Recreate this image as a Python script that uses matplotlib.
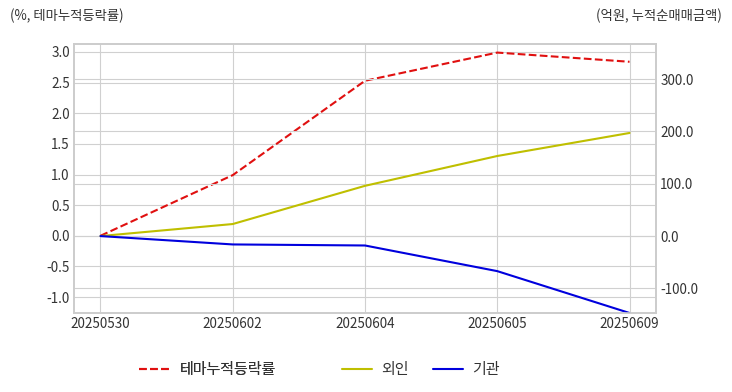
import matplotlib
matplotlib.use("Agg")
import matplotlib.pyplot as plt
import seaborn as sns
from matplotlib.ticker import FormatStrFormatter

dates = ["20250530", "20250602", "20250604", "20250605", "20250609"]
theme_rate = [0.0, 0.99, 2.53, 2.99, 2.84]   # %, 테마누적등락률
foreign = [0.0, 23.0, 96.0, 153.0, 197.0]    # 억원, 외인
inst = [0.0, -16.0, -18.0, -67.0, -147.0]    # 억원, 기관

sns.set_style("whitegrid")
plt.rcParams['font.family'] = ['Noto Sans CJK KR', 'DejaVu Sans']
plt.rcParams['axes.edgecolor'] = '#cccccc'
plt.rcParams['grid.color'] = '#d0d0d0'

fig = plt.figure(figsize=(7.32, 3.92), dpi=100)
ax1 = fig.add_axes([74/732, 1-313/392, (656-74)/732, (313-44)/392])
ax2 = ax1.twinx()

x = range(len(dates))
l1, = ax1.plot(x, theme_rate, color='#e01010', linestyle='--', linewidth=1.5, label='테마누적등락률')
l2, = ax2.plot(x, foreign, color='#bfbf00', linewidth=1.5, label='외인')
l3, = ax2.plot(x, inst, color='#0000dd', linewidth=1.5, label='기관')

ax1.set_xlim(-0.2, 4.2)
ax1.set_ylim(-1.26, 3.13)
ax2.set_ylim(-147, 367)
ax1.set_yticks([-1.0, -0.5, 0.0, 0.5, 1.0, 1.5, 2.0, 2.5, 3.0])
ax2.set_yticks([-100, 0, 100, 200, 300])
ax1.yaxis.set_major_formatter(FormatStrFormatter('%.1f'))
ax2.yaxis.set_major_formatter(FormatStrFormatter('%.1f'))
ax1.set_xticks(list(x))
ax1.set_xticklabels(dates)

for ax in (ax1, ax2):
    ax.tick_params(labelsize=9.7, colors='#333333', length=0, pad=3)
    for s in ax.spines.values():
        s.set_color('#cccccc')
        s.set_linewidth(1.2)
ax2.grid(True, color='#d0d0d0')

fig.text(10/732, 1-16/392, '(%, 테마누적등락률)', fontsize=9.6, color='#333333', va='center', ha='left')
fig.text(722/732, 1-16/392, '(억원, 누적순매매금액)', fontsize=9.6, color='#333333', va='center', ha='right')

leg1 = fig.legend(handles=[l1], loc='center left', bbox_to_anchor=(125/732, 1-370/392),
                  frameon=False, fontsize=10.8, handlelength=2.1, handletextpad=0.65)
fig.add_artist(leg1)
leg1.get_texts()[0].set_color('#333333')
leg2 = fig.legend(handles=[l2, l3], loc='center left', bbox_to_anchor=(328/732, 1-370/392),
                  frameon=False, fontsize=10.8, ncol=2, handlelength=2.0, handletextpad=0.65,
                  columnspacing=1.6)
for t in leg2.get_texts():
    t.set_color('#333333')

fig.savefig('out.png', dpi=100)
